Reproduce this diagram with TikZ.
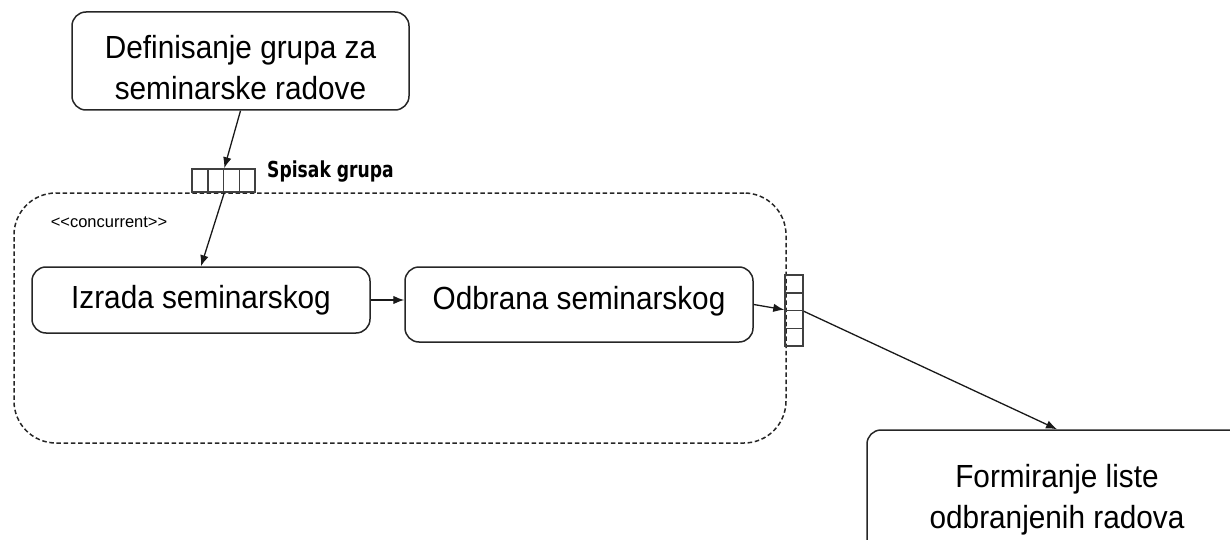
\documentclass[tikz,border=0pt]{standalone}
\usepackage{fontspec}
\setmainfont{Liberation Sans}
\newfontfamily\boxfont[FakeStretch=0.93]{Liberation Sans}
\newfontfamily\pinfont[FakeStretch=0.78]{DejaVu Sans Bold}
\usetikzlibrary{arrows.meta}

\begin{document}
\begin{tikzpicture}[x=1pt, y=-1pt,
        action/.style={rectangle, rounded corners=14pt, draw=black!85, line width=1.5pt, align=center, inner sep=0pt, font=\boxfont\fontsize{32}{41}\selectfont},
        pin/.style={rectangle, draw=black!75, line width=1.5pt, inner sep=0pt},
        flow/.style={-{Latex[length=11pt, width=8.5pt]}, line width=1.3pt, black!90}]
    \useasboundingbox (0,0) rectangle (1230,540);

    \node (defgrupa) at (240.5, 61) [action, minimum width=337pt, minimum height=98pt] {\rule{0pt}{35.4pt}Definisanje grupa za\\seminarske radove};
    \node (region) at (400, 318) [rectangle, rounded corners=42pt, draw=black!85, line width=1.5pt, dash pattern=on 4.5pt off 2.7pt, minimum width=772pt, minimum height=250pt] {};
    \node (concurrent) at (109, 222) [inner sep=0pt, font=\fontsize{16.5}{16.5}\selectfont] {<\kern0pt<concurrent>\kern0pt>};

    \foreach \i in {1, 2, 3, 4} {
        \node (inpin\i) at (184.125 + 15.75*\i, 180.5) [pin, minimum width=15.75pt, minimum height=23pt] {};
        \node (outpin\i) at (794, 266.125 + 17.75*\i) [pin, minimum width=18pt, minimum height=17.75pt] {};
    }
    \node (spisak) at (267, 178) [anchor=base west, inner sep=0pt, font=\pinfont\fontsize{22}{22}\selectfont] {Spisak grupa};

    \node (izrada) at (201, 300) [action, minimum width=338pt, minimum height=66pt] {Izrada seminarskog};
    \node (odbrana) at (579, 304.5) [action, minimum width=348pt, minimum height=75pt, text depth=12.5pt] {Odbrana seminarskog};
    \node (formiranje) at (1057, 500) [action, minimum width=380pt, minimum height=140pt] {Formiranje liste\\odbranjenih radova};

    \draw[flow] (defgrupa.south) -- (inpin2.north east);
    \draw[flow] (inpin2.south east) -- (izrada.north);
    \draw[flow] (izrada.east) -- (izrada.east -| odbrana.west);
    \draw[flow] (odbrana.east) -- (outpin3.north west);
    \draw[flow] (outpin2.south east) -- (formiranje.north);
\end{tikzpicture}
\end{document}
